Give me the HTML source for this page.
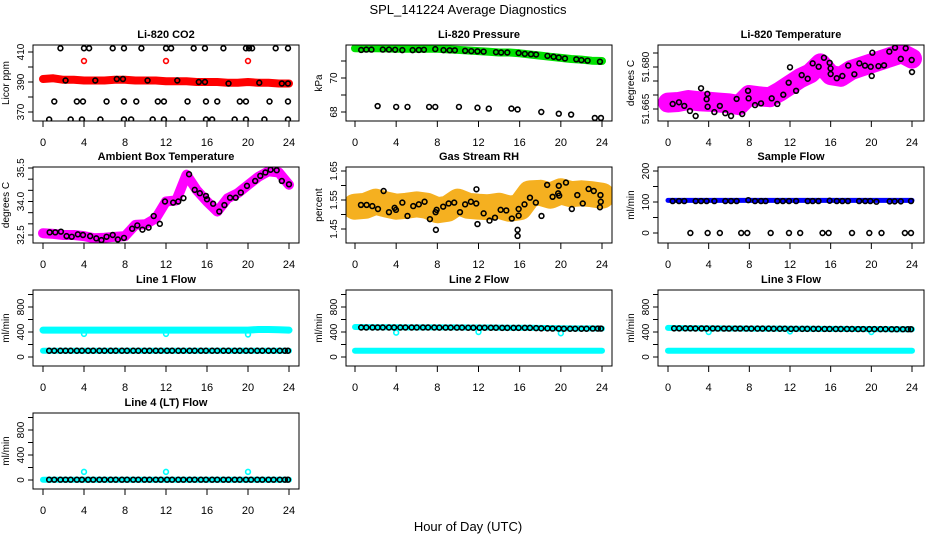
<!DOCTYPE html>
<html><head><meta charset="utf-8"><style>
html,body{margin:0;padding:0;background:#fff}
svg{display:block;font-family:"Liberation Sans",Arial,sans-serif}
</style></head><body>
<svg id="chart" width="936" height="540" viewBox="0 0 936 540">
<text x="468" y="14" text-anchor="middle" font-size="13">SPL_141224  Average Diagnostics</text>
<text x="468" y="531" text-anchor="middle" font-size="13">Hour of Day (UTC)</text>
</svg>
<script>
// ---------- data ----------
const hourKnots = [0,1,2,3,4,5,6,7,8,9,10,11,12,13,14,15,16,17,18,19,20,21,22,23,24];
const xTicks = [0,4,8,12,16,20,24];

// CO2
const co2Band = [392,392.5,391.5,391.5,391,391,391,391.5,391.5,391,391,391,390.5,390.5,390.5,390,390,390,389.5,389.5,390,389.5,389.5,389,389];
const co2RedOutHours = [4,12,20];
const co2RedOutVals = [404,404,404];
const co2BlackHours = [1.7,4,4.5,6.8,7.9,9.6,12,12.5,14.7,15.8,17.6,19.8,20.1,20.4,22.7,23.9,
  1.1,3.3,3.9,6.2,7.9,9.1,11.2,11.8,14.1,15.9,17,19.2,19.8,22.1,23.9,
  0.6,2.7,3.8,5.6,7.9,8.6,10.7,11.8,13.6,15.9,16.5,18.7,19.8,21.6,23.9,
  2.2,5.1,7.2,7.8,10.2,13.1,15.2,15.8,18.1,21.1,23.3,23.9];
const co2BlackVals = [412.5,412.5,412.5,412.5,412.5,412.5,412.5,412.5,412.5,412.5,412.5,412.5,412.5,412.5,412.5,412.5,
  377,377,377,377,377,377,377,377,377,377,377,377,377,377,377,
  365,365,365,365,365,365,365,365,365,365,365,365,365,365,365,
  391,391,392,392,391,391,390,390,389,389.5,389,389];

// Pressure
const presBand = [71.75,71.74,71.75,71.74,71.72,71.72,71.72,71.73,71.72,71.68,71.65,71.62,71.58,71.55,71.5,71.5,71.45,71.38,71.32,71.25,71.18,71.12,71.08,71.02,71.0];
const presBlackHours = [0.6,1.1,1.6,2.7,3.3,3.9,4.6,5.6,6.2,6.7,7.8,8.6,9.2,9.7,10.7,11.3,11.9,12.5,13.7,14.2,14.8,15.9,16.5,17.1,17.6,18.7,19.3,19.8,20.4,21.5,22,22.6,23.8,
  2.2,4,5.1,7.2,7.8,10.1,11.9,13,15.2,15.8,18.1,19.8,21,23.3,23.9];
const presBlackVals = [71.65,71.67,71.67,71.67,71.67,71.66,71.64,71.64,71.65,71.66,71.7,71.64,71.63,71.63,71.6,71.58,71.57,71.55,71.52,71.5,71.5,71.47,71.42,71.4,71.38,71.3,71.25,71.2,71.15,71.1,71.05,71.02,70.96,
  68.35,68.3,68.3,68.3,68.3,68.3,68.25,68.2,68.2,68.15,68.0,67.9,67.85,67.65,67.65];

// Li-820 temperature
const tempBand = [51.6673,51.6675,51.6682,51.6678,51.6676,51.6673,51.6670,51.6664,51.6700,51.6695,51.6692,51.6712,51.6736,51.6760,51.6777,51.6813,51.6771,51.6765,51.6789,51.6801,51.6813,51.6825,51.6837,51.6849,51.6830];
const tempBlackHours = [0.46,1.08,1.6,2.16,2.72,3.25,3.8,3.87,3.9,4.56,5.1,5.64,6.2,6.75,7.3,7.87,7.93,8.56,9.15,10.2,10.75,11.34,11.87,12.0,12.6,13.15,13.74,14.23,14.82,15.34,15.9,15.99,16.0,16.6,17.15,17.73,18.33,18.82,19.38,19.94,20.04,20.1,20.7,21.25,21.77,22.33,22.9,23.38,23.97,24.0];
const tempBlackVals = [51.6668,51.6674,51.6661,51.6643,51.6625,51.6724,51.6685,51.6704,51.6658,51.6639,51.6661,51.6635,51.6625,51.6686,51.6632,51.6715,51.6688,51.6664,51.6670,51.6688,51.6668,51.6701,51.6744,51.6799,51.6715,51.6771,51.6758,51.6813,51.6801,51.6833,51.6815,51.6795,51.6775,51.6760,51.6768,51.6805,51.6774,51.6813,51.6805,51.6801,51.6768,51.6851,51.6803,51.6806,51.6855,51.6869,51.6829,51.6867,51.6825,51.6782];

// Ambient box temperature
const ambBand = [32.58,32.55,32.5,32.5,32.45,32.35,32.38,32.42,32.45,32.95,32.98,33.25,34.0,34.05,35.2,34.5,34.0,33.55,34.14,34.37,34.74,35.1,35.35,35.3,34.75];
const ambBlackHours = [0.65,1.2,1.75,2.3,2.8,3.4,3.9,4.6,5.2,5.7,6.2,6.8,7.3,7.9,8.7,9.2,9.7,10.3,10.8,11.4,11.9,12.7,13.2,13.7,14.25,14.8,15.3,15.9,16.0,16.6,17.2,17.7,18.25,18.8,19.3,19.9,20.7,21.2,21.7,22.2,22.8,23.3,24.0];
const ambBlackVals = [32.62,32.62,32.65,32.45,32.42,32.53,32.5,32.45,32.35,32.27,32.42,32.5,32.3,32.37,32.78,32.93,32.74,32.83,33.35,33.0,34.0,33.95,34.0,34.15,35.22,34.52,34.37,34.25,34.1,33.9,33.55,33.84,34.17,34.17,34.4,34.7,34.92,35.15,35.3,35.42,35.4,34.92,34.77];

// Gas stream RH
const rhBand = [1.527,1.53,1.544,1.535,1.527,1.53,1.535,1.53,1.515,1.52,1.544,1.53,1.527,1.525,1.53,1.52,1.525,1.573,1.575,1.565,1.58,1.57,1.573,1.57,1.565];
const rhBlackHours = [0.58,1.13,1.68,2.23,2.78,3.3,3.85,3.98,4.6,5.1,5.66,6.2,6.76,7.28,7.83,7.86,7.93,8.57,9.1,9.64,10.2,10.7,11.26,11.78,11.8,11.9,12.5,13.07,13.6,14.15,14.7,15.24,15.8,15.8,15.9,15.9,16.47,17.0,17.57,18.12,18.67,19.2,19.74,19.8,19.84,20.5,21.07,21.6,22.13,22.7,23.2,23.85,23.88,23.8];
const rhBlackVals = [1.533,1.533,1.529,1.519,1.581,1.508,1.523,1.516,1.541,1.495,1.529,1.535,1.544,1.484,1.508,1.447,1.516,1.527,1.538,1.541,1.508,1.535,1.544,1.538,1.587,1.467,1.504,1.479,1.489,1.516,1.514,1.486,1.447,1.426,1.519,1.496,1.535,1.558,1.541,1.495,1.602,1.561,1.573,1.599,1.565,1.61,1.519,1.567,1.538,1.588,1.581,1.567,1.544,1.525];

// Sample flow
const sampBand = [105,105,105,105,105,105,105,105,105,105,105,105,105,105,105,105,105,105,105,105,105,105,105,105,105];
const sampBlackHours = [0.46,1.08,1.6,2.72,3.25,3.8,4.56,5.64,6.2,6.75,7.9,8.56,9.15,9.6,10.75,11.3,11.9,12.6,13.74,14.23,14.8,15.9,16.6,17.15,17.7,18.8,19.4,19.9,20.5,21.8,22.3,22.9,23.9,
  2.2,3.9,5.1,7.2,7.8,10.1,11.9,13,15.2,15.8,18.1,19.8,21,23.3,23.9];
const sampBlackVals = [103,103,103,103,103,103,103,103,103,103,106,103,103,103,103,103,103,103,103,103,103,104,103,103,103,103,103,103,101,102,102,102,103,
  0,0,0,0,0,0,0,0,0,0,0,0,0,0,0];

// Line flows
const flowHours = [0.6,1.1,1.7,2.2,2.7,3.3,3.8,4.4,4.9,5.5,6.0,6.6,7.1,7.7,8.2,8.8,9.3,9.9,10.4,11.0,11.5,12.1,12.6,13.2,13.7,14.3,14.8,15.4,15.9,16.5,17.0,17.6,18.1,18.7,19.2,19.8,20.3,20.9,21.4,22.0,22.5,23.1,23.6,23.9];
const line1Upper = [430,430,430,430,430,430,430,430,430,430,430,430,430,430,430,430,430,430,430,430,430,440,440,435,430];
const line1Lower = [100,100,100,100,100,100,100,100,100,100,100,100,100,100,100,100,100,100,100,100,100,100,100,100,100];
const line1Black = [100,100,100,100,100,100,100,100,100,100,100,100,100,100,100,100,100,100,100,100,100,100,100,100,100,100,100,100,100,100,100,100,100,100,100,100,100,100,100,100,100,100,100,100];
const line2Upper = [480,478,476,476,475,474,474,474,474,473,473,472,472,472,470,468,468,468,465,462,460,458,458,457,455];
const line2Lower = [100,100,100,100,100,100,100,100,100,100,100,100,100,100,100,100,100,100,100,100,100,100,100,100,100];
const line2Black = [472,472,472,472,472,472,472,472,472,472,472,472,472,472,470,470,470,470,470,468,468,468,468,468,468,466,466,466,466,466,466,462,458,458,455,455,452,452,452,452,452,455,455,455];
const line3Upper = [465,462,460,460,458,458,456,456,455,455,454,454,453,452,452,450,450,449,448,448,446,446,445,445,445];
const line3Lower = [100,100,100,100,100,100,100,100,100,100,100,100,100,100,100,100,100,100,100,100,100,100,100,100,100];
const line3Black = [458,458,458,458,456,456,456,456,455,455,455,455,455,455,454,454,454,454,452,452,452,450,450,450,450,450,450,449,449,448,448,448,448,447,447,446,446,446,446,445,445,445,445,445];
const line4Lower = [5,5,5,5,5,5,5,5,5,5,5,5,5,5,5,5,5,5,5,5,5,5,5,5,5];
const line4Black = [5,5,5,5,5,5,5,5,5,5,5,5,5,5,5,5,5,5,5,5,5,5,5,5,5,5,5,5,5,5,5,5,5,5,5,5,5,5,5,5,5,5,5,5];
const flowOutHours = [4,12,20];
const line1Out = [370,370,360];
const line2Out = [390,400,380];
const line3Out = [400,410,400];
const line4Out = [130,130,130];

// ---------- drawing ----------
const NS = "http://www.w3.org/2000/svg";
const svg = document.getElementById('chart');
function mk(tag, attrs, parent){
  const e = document.createElementNS(NS, tag);
  for (const k in attrs) e.setAttribute(k, attrs[k]);
  (parent||svg).appendChild(e);
  return e;
}
const cols = [{l:33,r:299,x0:43,x24:289},{l:346,r:612,x0:355,x24:602},{l:658,r:924,x0:668,x24:912}];
const rows = [{t:45,b:121},{t:167,b:243},{t:290,b:366},{t:413,b:489}];
let clipId = 0;

function panel(name, title, ylab, col, row, v1, p1, v2, p2, yTicks, yLabels){
  const C = cols[col], R = rows[row];
  const g = mk('g', {});
  
  
  const xs = h => C.x0 + (C.x24 - C.x0) * h / 24;
  const ys = v => p1 + (v - v1) * (p2 - p1) / (v2 - v1);
  const t = mk('text', {x:(C.l+C.r)/2, y:R.t-7, 'text-anchor':'middle', 'font-size':11, 'font-weight':'bold'}, g);
  t.textContent = title;
  
  
  const xa = mk('g', {}, g);
  
  
  mk('line', {x1:xs(0), x2:xs(24), y1:R.b, y2:R.b, stroke:'#000'}, xa);
  xTicks.forEach(h => {
    mk('line', {x1:xs(h), x2:xs(h), y1:R.b, y2:R.b+6, stroke:'#000'}, xa);
    const tl = mk('text', {x:xs(h), y:R.b+25, 'text-anchor':'middle', 'font-size':11}, xa);
    tl.textContent = h;
    
    
  });
  const ya = mk('g', {}, g);
  
  
  mk('line', {x1:C.l, x2:C.l, y1:ys(yTicks[0]), y2:ys(yTicks[yTicks.length-1]), stroke:'#000'}, ya);
  yTicks.forEach(v => mk('line', {x1:C.l-5, x2:C.l, y1:ys(v), y2:ys(v), stroke:'#000'}, ya));
  yLabels.forEach(v => {
    const y = ys(v);
    const tl = mk('text', {x:C.l-9, y:y, 'text-anchor':'middle', 'font-size':10, transform:`rotate(-90 ${C.l-9} ${y})`}, ya);
    tl.textContent = v;
    
    
  });
  const yt = mk('text', {x:C.l-24, y:(R.t+R.b)/2, 'text-anchor':'middle', 'font-size':10, transform:`rotate(-90 ${C.l-24} ${(R.t+R.b)/2})`}, g);
  yt.textContent = ylab;
  
  
  clipId++;
  const cp = mk('clipPath', {id:'cp'+clipId}, g);
  mk('rect', {x:C.l, y:R.t, width:C.r-C.l, height:R.b-R.t}, cp);
  const plot = mk('g', {'clip-path':`url(#cp${clipId})`}, g);
  const box = mk('rect', {x:C.l, y:R.t, width:C.r-C.l, height:R.b-R.t, fill:'none', stroke:'#000'}, g);
  
  
  return {
    band(vals, color, w, nm){
      const d = vals.map((v,i) => (i?'L':'M') + xs(hourKnots[i]).toFixed(1) + ' ' + ys(v).toFixed(1)).join(' ');
      const p = mk('path', {d:d, fill:'none', stroke:color, 'stroke-width':w, 'stroke-linejoin':'round', 'stroke-linecap':'round'}, plot);
      
      
    },
    pts(hours, vals, color, nm, r){
      const pg = mk('g', {}, plot);
      
      
      hours.forEach((h,i) => {
        const c = mk('circle', {cx:xs(h), cy:ys(vals[i]), r:r||2.4, fill:'none', stroke:color, 'stroke-width':1.6}, pg);
        
        
      });
    }
  };
}

let p;
p = panel('co2', 'Li-820 CO2', 'Licor ppm', 0, 0, 410, 52, 370, 112, [370,380,390,400,410], [370,390,410]);
p.band(co2Band, '#ff0000', 8, 'co2-series');
p.pts(co2RedOutHours, co2RedOutVals, '#ff0000', 'co2-outliers');
p.pts(co2BlackHours, co2BlackVals, '#000', 'co2-averages');

p = panel('pressure', 'Li-820 Pressure', 'kPa', 1, 0, 70, 78, 68, 112, [68,69,70,71], [68,70]);
p.band(presBand, '#00e000', 8, 'pressure-series');
p.pts(presBlackHours, presBlackVals, '#000', 'pressure-averages');

p = panel('li820-temp', 'Li-820 Temperature', 'degrees C', 2, 0, 51.665, 109, 51.680, 67, [51.665,51.670,51.675,51.680,51.685], ['51.665','51.680']);
p.band(tempBand, '#ff00ff', 20, 'temperature-series');
p.pts(tempBlackHours, tempBlackVals, '#000', 'temperature-averages');

p = panel('ambient-temp', 'Ambient Box Temperature', 'degrees C', 0, 1, 35.5, 168, 32.5, 235, [32.5,33,33.5,34,34.5,35,35.5], ['32.5','34.0','35.5']);
p.band(ambBand, '#ff00ff', 10, 'ambient-series');
p.pts(ambBlackHours, ambBlackVals, '#000', 'ambient-averages');

p = panel('gas-rh', 'Gas Stream RH', 'percent', 1, 1, 1.65, 171, 1.45, 229, [1.45,1.5,1.55,1.6,1.65], ['1.45','1.55','1.65']);
p.band(rhBand, '#f5b020', 26, 'rh-series');
p.pts(rhBlackHours, rhBlackVals, '#000', 'rh-averages');

p = panel('sample-flow', 'Sample Flow', 'ml/min', 2, 1, 200, 171, 0, 233, [0,50,100,150,200], [0,100,200]);
p.band(sampBand, '#0000ff', 5, 'sample-series');
p.pts(sampBlackHours, sampBlackVals, '#000', 'sample-averages');

const ft = [0,200,400,600,800,1000], fl = [0,400,800];
p = panel('line1', 'Line 1 Flow', 'ml/min', 0, 2, 0, 357, 800, 307, ft, fl);
p.band(line1Upper, '#00ffff', 7, 'line1-upper-series');
p.band(line1Lower, '#00ffff', 6, 'line1-lower-series');
p.pts(flowOutHours, line1Out, '#00ffff', 'line1-outliers');
p.pts(flowHours, line1Black, '#000', 'line1-averages');

p = panel('line2', 'Line 2 Flow', 'ml/min', 1, 2, 0, 357, 800, 307, ft, fl);
p.band(line2Upper, '#00ffff', 6, 'line2-upper-series');
p.band(line2Lower, '#00ffff', 6, 'line2-lower-series');
p.pts(flowOutHours, line2Out, '#00ffff', 'line2-outliers');
p.pts(flowHours, line2Black, '#000', 'line2-averages');

p = panel('line3', 'Line 3 Flow', 'ml/min', 2, 2, 0, 357, 800, 307, ft, fl);
p.band(line3Upper, '#00ffff', 6, 'line3-upper-series');
p.band(line3Lower, '#00ffff', 6, 'line3-lower-series');
p.pts(flowOutHours, line3Out, '#00ffff', 'line3-outliers');
p.pts(flowHours, line3Black, '#000', 'line3-averages');

p = panel('line4', 'Line 4 (LT) Flow', 'ml/min', 0, 3, 0, 480, 800, 430, ft, fl);
p.band(line4Lower, '#00ffff', 6, 'line4-series');
p.pts(flowOutHours, line4Out, '#00ffff', 'line4-outliers');
p.pts(flowHours, line4Black, '#000', 'line4-averages');
</script>
</body></html>
